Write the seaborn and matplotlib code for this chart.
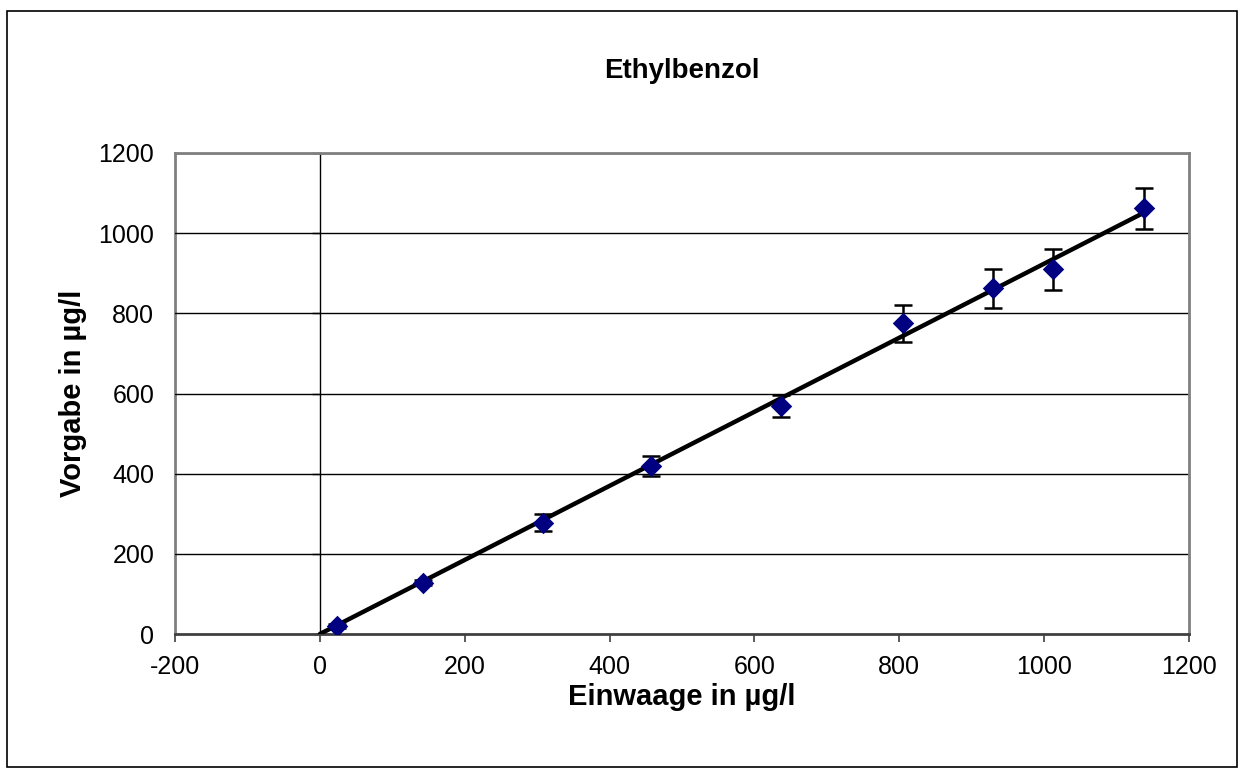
import numpy as np
import pandas as pd
import matplotlib
matplotlib.use("Agg")
import matplotlib.pyplot as plt
from matplotlib.patches import Rectangle
import seaborn as sns

# Measured series: weighed-in concentration vs. nominal concentration
einwaage = [23.5, 142.3, 308.0, 457.4, 637.0, 805.7, 928.7, 1011.6, 1138.0]
vorgabe = [20.0, 128.0, 278.0, 420.0, 569.0, 775.0, 862.5, 910.0, 1062.0]
fehler = [5.0, 7.0, 21.0, 25.0, 27.0, 46.0, 49.0, 51.0, 51.0]

x_ticks = [-200, 0, 200, 400, 600, 800, 1000, 1200]
y_ticks = [0, 200, 400, 600, 800, 1000, 1200]

df = pd.DataFrame({"Einwaage": einwaage, "Vorgabe": vorgabe, "Fehler": fehler})

# Linear trend forced through the origin
x = np.array(einwaage)
y = np.array(vorgabe)
slope = np.sum(x * y) / np.sum(x * x)
trend = pd.DataFrame({"Einwaage": [0.0, x.max()]})
trend["Vorgabe"] = slope * trend["Einwaage"]

sns.set_theme(style="white")
plt.rcParams["font.family"] = ["Liberation Sans", "DejaVu Sans"]
plt.rcParams.update({"text.color": "black", "axes.labelcolor": "black",
                     "xtick.color": "black", "ytick.color": "black"})

fig = plt.figure(figsize=(12.45, 7.76), dpi=100)
ax = fig.add_axes([175 / 1245, 1 - 634 / 776, (1189 - 175) / 1245, (634 - 153) / 776])

# outer chart frame
fig.patches.append(Rectangle((7 / 1245, 1 - 767 / 776), 1230 / 1245, 756 / 776,
                             transform=fig.transFigure, fill=False,
                             edgecolor="black", linewidth=1.2))

ax.set_xlim(-200, 1200)
ax.set_ylim(0, 1200)

for yt in y_ticks[1:]:
    ax.axhline(yt, color="black", linewidth=1.0, zorder=1)

sns.lineplot(data=trend, x="Einwaage", y="Vorgabe", ax=ax, color="black",
             linewidth=3.2, zorder=3)
ax.errorbar(df["Einwaage"], df["Vorgabe"], yerr=df["Fehler"], fmt="none",
            ecolor="black", elinewidth=1.8, capsize=6.5, capthick=1.8, zorder=4)
sns.scatterplot(data=df, x="Einwaage", y="Vorgabe", ax=ax, marker="D", s=120,
                color="#000080", edgecolor="#000080", linewidth=0, zorder=5)

# y axis crossing at x = 0
ax.spines["left"].set_position(("data", 0))
ax.spines["left"].set_color("black")
ax.spines["left"].set_linewidth(1.0)
ax.set_yticks(y_ticks)
ax.tick_params(axis="y", which="both", left=True, length=6, width=1.0,
               color="black", labelleft=False, direction="out")

# x axis along y = 0
ax.spines["bottom"].set_color("#404040")
ax.spines["bottom"].set_linewidth(2.0)
ax.set_xticks(x_ticks)
ax.set_xticklabels([str(v) for v in x_ticks])
ax.tick_params(axis="x", which="both", bottom=True, length=6, width=1.2,
               color="#404040", pad=9, labelsize=18, labelcolor="black",
               direction="out")

for side in ["top", "right"]:
    ax.spines[side].set_color("#808080")
    ax.spines[side].set_linewidth(2.0)

# y tick labels and grey frame side on the left of the plot area
sec = ax.secondary_yaxis(0.0)
sec.set_yticks(y_ticks)
sec.set_yticklabels([str(v) for v in y_ticks])
sec.tick_params(axis="y", length=0, pad=15, labelsize=18, labelcolor="black")
sec.spines["left"].set_color("#808080")
sec.spines["left"].set_linewidth(2.0)

ax.set_xlabel("Einwaage in µg/l", fontsize=21, fontweight="bold", labelpad=3,
              color="black")
ax.set_ylabel("")
sec.set_ylabel("Vorgabe in µg/l", fontsize=21, fontweight="bold", labelpad=8,
               color="black")
ax.set_title("Ethylbenzol", fontsize=20, fontweight="bold", pad=54,
             color="black")

fig.savefig("out.png", dpi=100)
